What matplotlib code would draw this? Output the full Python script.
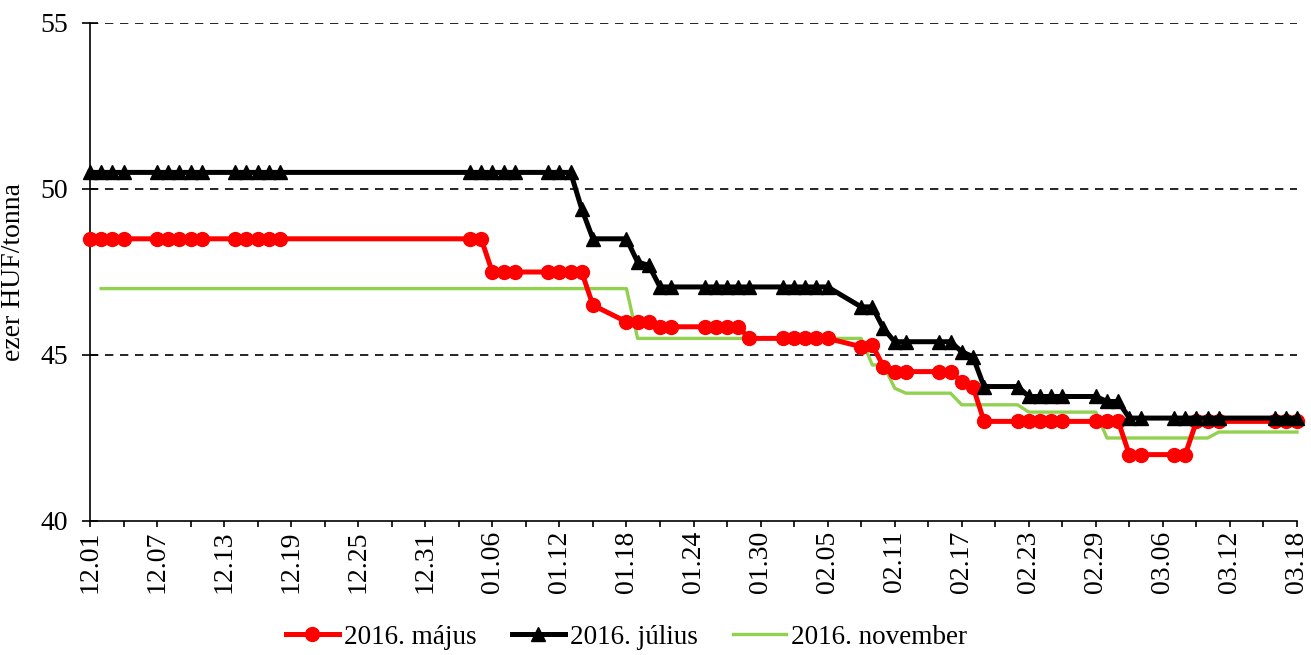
import pandas as pd
import matplotlib
matplotlib.use("Agg")
import matplotlib.pyplot as plt
import numpy as np

plt.rcParams['font.family'] = ['Liberation Serif', 'DejaVu Serif']

# trading days (month.day), Dec belongs to 2015, the rest to 2016
days = [
    "12.01", "12.02", "12.03", "12.04", "12.07", "12.08", "12.09", "12.10", "12.11",
    "12.14", "12.15", "12.16", "12.17", "12.18",
    "01.04", "01.05", "01.06", "01.07", "01.08", "01.11", "01.12", "01.13", "01.14", "01.15",
    "01.18", "01.19", "01.20", "01.21", "01.22", "01.25", "01.26", "01.27", "01.28", "01.29",
    "02.01", "02.02", "02.03", "02.04", "02.05", "02.08", "02.09", "02.10", "02.11", "02.12",
    "02.15", "02.16", "02.17", "02.18", "02.19", "02.22", "02.23", "02.24", "02.25", "02.26",
    "02.29", "03.01", "03.02", "03.03", "03.04", "03.07", "03.08", "03.09", "03.10", "03.11",
    "03.16", "03.17", "03.18",
]

majus = [
    48.5, 48.5, 48.5, 48.5, 48.5, 48.5, 48.5, 48.5, 48.5,
    48.5, 48.5, 48.5, 48.5, 48.5,
    48.5, 48.5, 47.5, 47.5, 47.5, 47.5, 47.5, 47.5, 47.5, 46.5,
    46.0, 46.0, 46.0, 45.85, 45.85, 45.85, 45.85, 45.85, 45.85, 45.5,
    45.5, 45.5, 45.5, 45.5, 45.5, 45.25, 45.3, 44.65, 44.5, 44.5,
    44.5, 44.5, 44.2, 44.05, 43.0, 43.0, 43.0, 43.0, 43.0, 43.0,
    43.0, 43.0, 43.0, 42.0, 42.0, 42.0, 42.0, 43.0, 43.0, 43.0,
    43.0, 43.0, 43.0,
]

julius = [
    50.5, 50.5, 50.5, 50.5, 50.5, 50.5, 50.5, 50.5, 50.5,
    50.5, 50.5, 50.5, 50.5, 50.5,
    50.5, 50.5, 50.5, 50.5, 50.5, 50.5, 50.5, 50.5, 49.4, 48.5,
    48.5, 47.8, 47.7, 47.05, 47.05, 47.05, 47.05, 47.05, 47.05, 47.05,
    47.05, 47.05, 47.05, 47.05, 47.05, 46.45, 46.45, 45.8, 45.4, 45.4,
    45.4, 45.4, 45.1, 44.95, 44.05, 44.05, 43.75, 43.75, 43.75, 43.75,
    43.75, 43.6, 43.6, 43.1, 43.1, 43.1, 43.1, 43.1, 43.1, 43.1,
    43.1, 43.1, 43.1,
]

november = [
    np.nan, 47.0, 47.0, 47.0, 47.0, 47.0, 47.0, 47.0, 47.0,
    47.0, 47.0, 47.0, 47.0, 47.0,
    47.0, 47.0, 47.0, 47.0, 47.0, 47.0, 47.0, 47.0, 47.0, 47.0,
    47.0, 45.5, 45.5, 45.5, 45.5, 45.5, 45.5, 45.5, 45.5, 45.5,
    45.5, 45.5, 45.5, 45.5, 45.5, 45.5, 44.7, 44.7, 44.0, 43.85,
    43.85, 43.85, 43.5, 43.5, 43.5, 43.5, 43.28, 43.28, 43.28, 43.28,
    43.28, 42.5, 42.5, 42.5, 42.5, 42.5, 42.5, 42.5, 42.5, 42.68,
    42.68, 42.68, 42.68,
]

labels = ["2016. május", "2016. július", "2016. november"]

dates = pd.to_datetime([("2015." if d.startswith("12") else "2016.") + d for d in days],
                       format="%Y.%m.%d")

fig = plt.figure(figsize=(13.11, 6.55), dpi=100)
ax = fig.add_axes([90 / 1311, (655 - 521) / 655, 1207 / 1311, 498 / 655])

ax.plot(dates, majus, color="#FF0000", lw=3.6, marker="o", ms=10, label=labels[0],
        zorder=3, clip_on=False)
ax.plot(dates, julius, color="black", lw=3.6, marker="^", ms=10.5, label=labels[1],
        zorder=4, clip_on=False)
ax.plot(dates, november, color="#92D050", lw=2.4, label=labels[2], zorder=2, clip_on=False)

start, end = pd.Timestamp("2015-12-01"), pd.Timestamp("2016-03-18")
ax.set_xlim(start, end)
ax.set_ylim(40, 55)
ax.set_xticks(pd.date_range(start, end, freq="6D"))
ax.set_xticks(pd.date_range(start, end, freq="3D"), minor=True)
ax.set_xticklabels([d.strftime("%m.%d") for d in pd.date_range(start, end, freq="6D")],
                   rotation=90, fontsize=20)
ax.set_yticks([40, 45, 50, 55])
ax.tick_params(axis="y", labelsize=20, direction="inout", length=12, width=1.2, pad=10)
ax.tick_params(axis="x", which="both", direction="out", length=4.3, width=1.2, pad=2.5)

for y in [45, 50, 55]:
    ax.axhline(y, color="black", lw=1.2, ls=(0, (5, 4)), zorder=1)

ax.spines["top"].set_visible(False)
ax.spines["right"].set_visible(False)
ax.spines["left"].set_linewidth(1.2)
ax.spines["bottom"].set_linewidth(1.2)

ax.set_ylabel("ezer HUF/tonna", fontsize=20)
ax.yaxis.set_label_coords(-0.053, 0.5)

fig.legend(loc="center", bbox_to_anchor=(0.478, 0.027), ncol=3, frameon=False,
           fontsize=19.5, handlelength=1.95, handletextpad=0.2, columnspacing=1.3,
           numpoints=1)

fig.savefig("out.png", dpi=100)
